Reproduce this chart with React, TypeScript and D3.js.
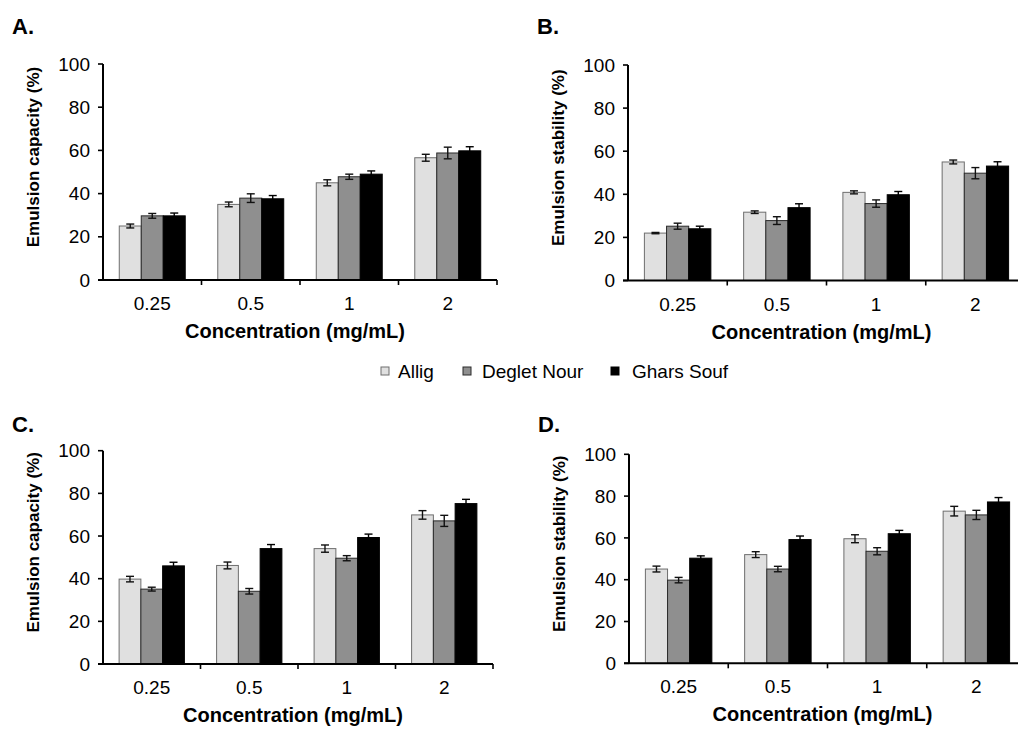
import React from "react";
import * as d3 from "d3";

// data
const concentrations = ["0.25", "0.5", "1", "2"];
const cultivars = ["Allig", "Deglet Nour", "Ghars Souf"];
const yTicks = [0, 20, 40, 60, 80, 100];

// A. emulsion capacity (first set)
const capA_allig = [25, 35, 45, 56.6];
const capA_deglet = [29.7, 37.9, 47.8, 58.8];
const capA_ghars = [29.7, 37.6, 49, 59.8];
const capA_allig_err = [0.9, 1.1, 1.4, 1.6];
const capA_deglet_err = [1.1, 2, 1.2, 2.7];
const capA_ghars_err = [1.3, 1.5, 1.5, 1.9];

// B. emulsion stability (first set)
const stabB_allig = [22, 31.7, 40.9, 55];
const stabB_deglet = [25.2, 27.8, 35.7, 49.8];
const stabB_ghars = [24, 33.8, 39.8, 53.1];
const stabB_allig_err = [0.3, 0.6, 0.7, 0.9];
const stabB_deglet_err = [1.4, 1.8, 1.7, 2.6];
const stabB_ghars_err = [1.2, 1.8, 1.5, 2];

// C. emulsion capacity (second set)
const capC_allig = [39.8, 46.2, 54.1, 69.9];
const capC_deglet = [35.1, 34.1, 49.6, 67.1];
const capC_ghars = [46, 54.1, 59.3, 75.2];
const capC_allig_err = [1.3, 1.6, 1.7, 2];
const capC_deglet_err = [0.9, 1.3, 1.2, 2.6];
const capC_ghars_err = [1.7, 1.9, 1.6, 2];

// D. emulsion stability (second set)
const stabD_allig = [45.1, 52, 59.6, 72.8];
const stabD_deglet = [39.8, 45.1, 53.6, 71];
const stabD_ghars = [50.3, 59.2, 62, 77.2];
const stabD_allig_err = [1.4, 1.4, 1.9, 2.3];
const stabD_deglet_err = [1.3, 1.3, 1.7, 2.2];
const stabD_ghars_err = [1.1, 1.7, 1.6, 2.1];

const fills = ["#e0e0e0", "#8f8f8f", "#000000"];
const strokes = ["#6e6e6e", "#2a2a2a", "#000000"];
const FONT = "'Liberation Sans', Arial, Helvetica, sans-serif";

type PanelProps = {
  label: string;
  yTitle: string;
  values: number[][];
  errors: number[][];
  left: number;
  right: number;
  top: number;
  bottom: number;
  labelY: number;
};

const Panel = ({ label, yTitle, values, errors, left, right, top, bottom, labelY }: PanelProps) => {
  const x0 = d3.scaleBand().domain(concentrations).range([left, right]).padding(0);
  const x1 = d3
    .scaleBand()
    .domain(cultivars)
    .range([0, x0.bandwidth()])
    .paddingInner(0)
    .paddingOuter(0.74);
  const y = d3.scaleLinear().domain([0, 100]).range([bottom, top]);
  const capW = 4;

  return (
    <g>
      {/* panel letter */}
      <text x={left - 91} y={labelY} fontSize={22} fontWeight="bold" fontFamily={FONT}>
        {label}
      </text>

      {/* bars */}
      {cultivars.map((c, si) =>
        concentrations.map((conc, ci) => {
          const v = values[si][ci];
          const bx = (x0(conc) ?? 0) + (x1(c) ?? 0);
          return (
            <rect
              key={c + conc}
              x={bx}
              y={y(v)}
              width={x1.bandwidth()}
              height={y(0) - y(v)}
              fill={fills[si]}
              stroke={strokes[si]}
              strokeWidth={1}
            />
          );
        })
      )}

      {/* error bars */}
      {cultivars.map((c, si) =>
        concentrations.map((conc, ci) => {
          const v = values[si][ci];
          const e = errors[si][ci];
          const cx = (x0(conc) ?? 0) + (x1(c) ?? 0) + x1.bandwidth() / 2;
          const col = si === 2 ? "#000" : "#111";
          return (
            <g key={"e" + c + conc} stroke={col} strokeWidth={1.4}>
              <line x1={cx} x2={cx} y1={y(v + e)} y2={y(v - e)} />
              <line x1={cx - capW} x2={cx + capW} y1={y(v + e)} y2={y(v + e)} />
              <line x1={cx - capW} x2={cx + capW} y1={y(v - e)} y2={y(v - e)} />
            </g>
          );
        })
      )}

      {/* y axis */}
      <line x1={left} x2={left} y1={top} y2={bottom} stroke="#000" strokeWidth={2} />
      {yTicks.map((t) => (
        <g key={"yt" + t}>
          <line x1={left - 5} x2={left} y1={y(t)} y2={y(t)} stroke="#000" strokeWidth={1.6} />
          <text
            x={left - 13}
            y={y(t)}
            dy="0.35em"
            textAnchor="end"
            fontSize={19}
            fontFamily={FONT}
          >
            {t}
          </text>
        </g>
      ))}

      {/* x axis */}
      <line x1={left - 5} x2={right} y1={bottom} y2={bottom} stroke="#000" strokeWidth={2} />
      {concentrations.map((conc) => (
        <g key={"xt" + conc}>
          <line
            x1={(x0(conc) ?? 0) + x0.bandwidth()}
            x2={(x0(conc) ?? 0) + x0.bandwidth()}
            y1={bottom}
            y2={bottom + 5}
            stroke="#000"
            strokeWidth={1.6}
          />
          <text
            x={(x0(conc) ?? 0) + x0.bandwidth() / 2}
            y={bottom + 30}
            textAnchor="middle"
            fontSize={19}
            fontFamily={FONT}
          >
            {conc}
          </text>
        </g>
      ))}

      {/* axis titles */}
      <text
        x={(left + right) / 2 - 5}
        y={bottom + 58}
        textAnchor="middle"
        fontSize={20}
        fontWeight="bold"
        fontFamily={FONT}
      >
        Concentration (mg/mL)
      </text>
      <text
        transform={`translate(${left - 64},${(top + bottom) / 2 - 15}) rotate(-90)`}
        textAnchor="middle"
        fontSize={17}
        fontWeight="bold"
        fontFamily={FONT}
      >
        {yTitle}
      </text>
    </g>
  );
};

const legendItems = [
  { sq: 381, tx: 398 },
  { sq: 463, tx: 482 },
  { sq: 611, tx: 632 },
];

export default function App() {
  return (
    <svg
      width={1018}
      height={729}
      style={{ position: "absolute", left: 0, top: 0, background: "#fff" }}
    >
      <Panel
        label="A."
        yTitle="Emulsion capacity (%)"
        values={[capA_allig, capA_deglet, capA_ghars]}
        errors={[capA_allig_err, capA_deglet_err, capA_ghars_err]}
        left={103}
        right={497}
        top={64}
        bottom={280}
        labelY={34}
      />
      <Panel
        label="B."
        yTitle="Emulsion stability (%)"
        values={[stabB_allig, stabB_deglet, stabB_ghars]}
        errors={[stabB_allig_err, stabB_deglet_err, stabB_ghars_err]}
        left={628}
        right={1025}
        top={65}
        bottom={280.5}
        labelY={34}
      />
      <Panel
        label="C."
        yTitle="Emulsion capacity (%)"
        values={[capC_allig, capC_deglet, capC_ghars]}
        errors={[capC_allig_err, capC_deglet_err, capC_ghars_err]}
        left={103}
        right={493}
        top={450.7}
        bottom={664}
        labelY={432}
      />
      <Panel
        label="D."
        yTitle="Emulsion stability (%)"
        values={[stabD_allig, stabD_deglet, stabD_ghars]}
        errors={[stabD_allig_err, stabD_deglet_err, stabD_ghars_err]}
        left={629}
        right={1026}
        top={454.3}
        bottom={663.3}
        labelY={432}
      />

      {/* legend */}
      {cultivars.map((c, i) => (
        <g key={"lg" + c}>
          <rect
            x={legendItems[i].sq}
            y={367}
            width={8}
            height={8}
            fill={fills[i]}
            stroke={strokes[i]}
            strokeWidth={1}
          />
          <text x={legendItems[i].tx} y={378} fontSize={19} fontFamily={FONT}>
            {c}
          </text>
        </g>
      ))}
    </svg>
  );
}
